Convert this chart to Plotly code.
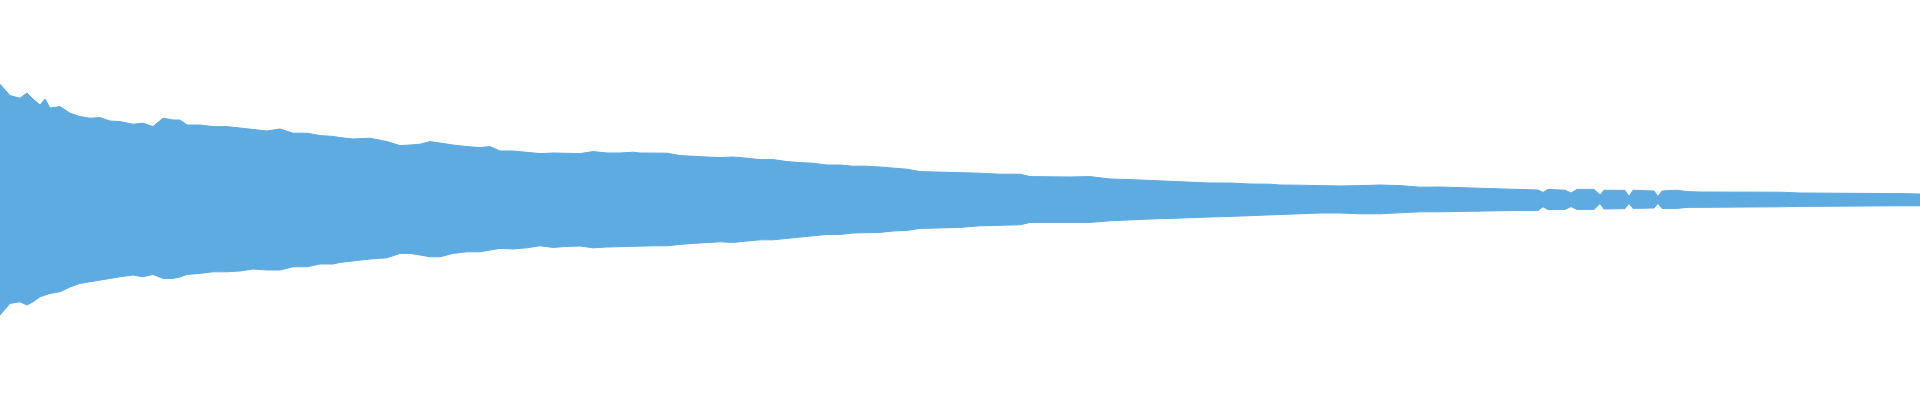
import plotly.graph_objects as go

# Time positions (ms) of the envelope samples
TIME_MS = [0, 10, 20, 27, 33, 40, 45, 50, 60, 67, 70, 80, 90, 100, 110, 120, 133, 143, 153, 163,
           173, 180, 187, 200, 213, 227, 240, 253, 267, 280, 293, 307, 320, 333, 340, 353, 370, 387,
           400, 410, 420, 430, 440, 453, 467, 480, 490, 500, 513, 527, 540, 553, 567, 580, 593, 607,
           620, 633, 640, 653, 667, 680, 693, 707, 720, 733, 747, 760, 773, 787, 800, 813, 827, 840,
           853, 867, 880, 893, 907, 920, 933, 947, 960, 980, 1000, 1020, 1030, 1050, 1070, 1090,
           1110, 1130, 1150, 1170, 1190, 1210, 1230, 1250, 1270, 1280, 1300, 1320, 1340, 1360, 1380,
           1400, 1420, 1440, 1460, 1480, 1500, 1520, 1538, 1543, 1548, 1565, 1571, 1577, 1594, 1600,
           1604, 1625, 1629, 1633, 1654, 1658, 1662, 1677, 1687, 1700, 1720, 1740, 1760, 1780, 1800,
           1820, 1840, 1860, 1880, 1900, 1920]

# Positive peak envelope (normalized amplitude)
PEAK_MAX = [0.579, 0.522, 0.509, 0.535, 0.505, 0.475, 0.505, 0.460, 0.467, 0.442, 0.434, 0.417,
            0.409, 0.412, 0.395, 0.392, 0.379, 0.384, 0.367, 0.409, 0.400, 0.400, 0.375, 0.375,
            0.367, 0.367, 0.359, 0.350, 0.345, 0.355, 0.334, 0.334, 0.322, 0.318, 0.312, 0.305,
            0.309, 0.292, 0.272, 0.275, 0.279, 0.292, 0.284, 0.275, 0.267, 0.262, 0.267, 0.245,
            0.245, 0.239, 0.232, 0.235, 0.232, 0.232, 0.242, 0.235, 0.235, 0.239, 0.235, 0.234,
            0.234, 0.222, 0.220, 0.215, 0.212, 0.215, 0.209, 0.202, 0.202, 0.192, 0.187, 0.184,
            0.175, 0.175, 0.169, 0.169, 0.165, 0.159, 0.154, 0.142, 0.140, 0.140, 0.139, 0.134,
            0.129, 0.129, 0.117, 0.115, 0.115, 0.117, 0.105, 0.102, 0.097, 0.092, 0.089, 0.085,
            0.085, 0.080, 0.079, 0.075, 0.074, 0.072, 0.070, 0.072, 0.075, 0.072, 0.064, 0.065,
            0.062, 0.059, 0.059, 0.054, 0.050, 0.038, 0.053, 0.049, 0.035, 0.053, 0.053, 0.025,
            0.049, 0.048, 0.018, 0.049, 0.045, 0.018, 0.045, 0.049, 0.042, 0.040, 0.040, 0.039,
            0.039, 0.039, 0.035, 0.035, 0.035, 0.034, 0.034, 0.032, 0.030]

# Negative peak envelope (normalized amplitude)
PEAK_MIN = [-0.575, -0.517, -0.509, -0.525, -0.509, -0.484, -0.475, -0.467, -0.459, -0.442, -0.435,
            -0.417, -0.409, -0.400, -0.392, -0.384, -0.375, -0.384, -0.372, -0.392, -0.392, -0.385,
            -0.372, -0.367, -0.359, -0.359, -0.355, -0.345, -0.350, -0.350, -0.334, -0.334, -0.320,
            -0.320, -0.312, -0.305, -0.295, -0.289, -0.267, -0.267, -0.275, -0.284, -0.284, -0.267,
            -0.259, -0.259, -0.250, -0.242, -0.245, -0.239, -0.229, -0.237, -0.232, -0.230, -0.239,
            -0.235, -0.234, -0.234, -0.230, -0.229, -0.229, -0.222, -0.217, -0.212, -0.209, -0.212,
            -0.204, -0.199, -0.199, -0.192, -0.185, -0.179, -0.172, -0.172, -0.165, -0.162, -0.162,
            -0.155, -0.152, -0.142, -0.139, -0.139, -0.137, -0.129, -0.125, -0.124, -0.112, -0.112,
            -0.112, -0.112, -0.104, -0.099, -0.095, -0.092, -0.087, -0.085, -0.082, -0.079, -0.077,
            -0.075, -0.069, -0.065, -0.065, -0.069, -0.069, -0.065, -0.059, -0.059, -0.059, -0.055,
            -0.054, -0.052, -0.052, -0.034, -0.048, -0.047, -0.033, -0.047, -0.047, -0.018, -0.045,
            -0.043, -0.017, -0.042, -0.040, -0.017, -0.042, -0.042, -0.037, -0.037, -0.035, -0.035,
            -0.034, -0.034, -0.032, -0.030, -0.030, -0.029, -0.029, -0.029, -0.029]

WAVE_COLOR = "rgb(93,171,225)"

xs = TIME_MS + TIME_MS[::-1]
ys = PEAK_MAX + PEAK_MIN[::-1]

fig = go.Figure(go.Scatter(
    x=xs, y=ys, mode="lines", fill="toself",
    fillcolor=WAVE_COLOR, line=dict(color=WAVE_COLOR, width=1),
    hoverinfo="skip", showlegend=False,
))

fig.update_layout(
    width=1920, height=400,
    margin=dict(l=0, r=0, t=0, b=0, pad=0),
    paper_bgcolor="white", plot_bgcolor="white",
    xaxis=dict(range=[TIME_MS[0], TIME_MS[-1]], visible=False, showgrid=False, zeroline=False),
    yaxis=dict(range=[-1, 1], visible=False, showgrid=False, zeroline=False),
    showlegend=False,
)

fig.write_html(
    "out.html",
    config={"displayModeBar": False},
    post_script="document.body.style.margin='0';document.body.style.overflow='hidden';",
)
